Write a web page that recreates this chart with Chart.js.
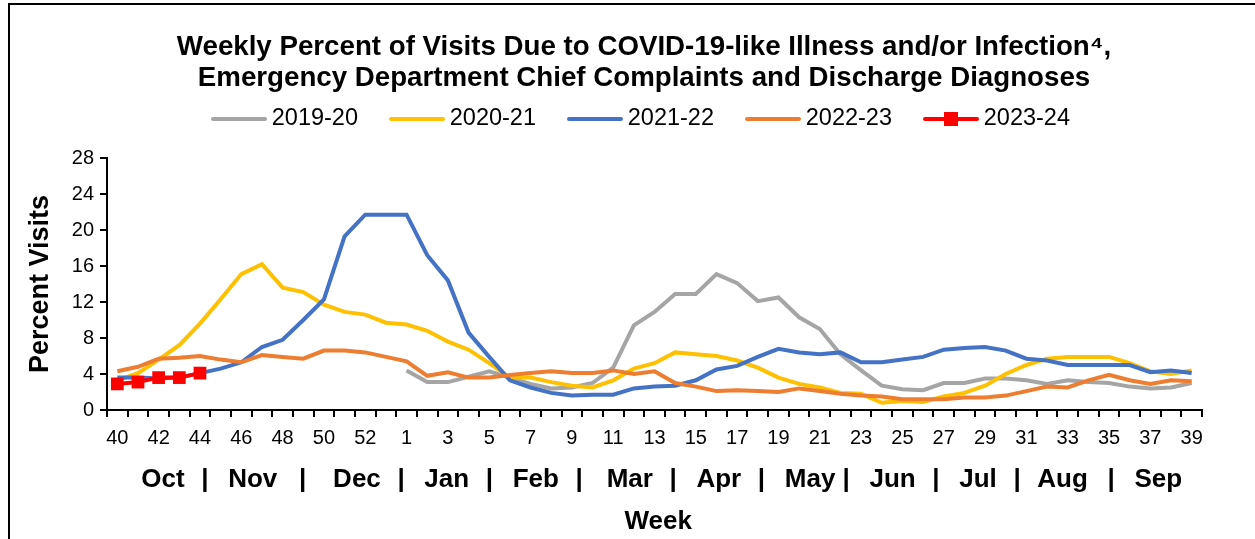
<!DOCTYPE html>
<html>
<head>
<meta charset="utf-8">
<title>COVID-19-like Illness ED Visits</title>
<script src="https://cdn.jsdelivr.net/npm/chart.js@4.4.0/dist/chart.umd.min.js"></script>
<style>
  html, body { margin: 0; padding: 0; background: #fff; }
  #wrap { position: relative; width: 1255px; height: 539px; overflow: hidden; }
  #frame { position: absolute; left: 8px; top: 3px; width: 1400px; height: 700px;
           border-left: 2px solid #000; border-top: 2px solid #000; }
  #chart { position: absolute; left: 0; top: 0; }
</style>
</head>
<body>
<div id="wrap">
  <div id="frame"></div>
  <canvas id="chart" width="1255" height="539"></canvas>
</div>
<script>
const weeks = [40, 41, 42, 43, 44, 45, 46, 47, 48, 49, 50, 51, 52, 53,
  1, 2, 3, 4, 5, 6, 7, 8, 9, 10, 11, 12, 13, 14, 15, 16, 17, 18, 19, 20,
  21, 22, 23, 24, 25, 26, 27, 28, 29, 30, 31, 32, 33, 34, 35, 36, 37, 38, 39];

const season2019 = [null, null, null, null, null, null, null, null, null, null, null, null, null, null,
  4.4, 3.1, 3.1, 3.7, 4.3, 3.6, 2.9, 2.4, 2.5, 3.0, 4.7, 9.4, 10.9, 12.9, 12.9, 15.1, 14.1, 12.1, 12.5, 10.3,
  9.0, 6.2, 4.4, 2.7, 2.3, 2.2, 3.0, 3.0, 3.5, 3.5, 3.3, 2.9, 3.3, 3.1, 3.0, 2.6, 2.4, 2.5, 3.0];

const season2020 = [3.3, 4.1, 5.6, 7.2, 9.6, 12.3, 15.1, 16.2, 13.6, 13.1, 11.7, 10.9, 10.6, 9.7,
  9.5, 8.8, 7.6, 6.7, 5.2, 3.6, 3.6, 3.1, 2.7, 2.5, 3.3, 4.6, 5.2, 6.4, 6.2, 6.0, 5.5, 4.7, 3.6, 2.9,
  2.5, 1.9, 1.8, 0.8, 1.0, 0.9, 1.5, 1.9, 2.7, 4.0, 5.0, 5.7, 5.9, 5.9, 5.9, 5.2, 4.3, 4.0, 4.4];

const season2021 = [3.6, 3.6, 3.5, 3.6, 4.1, 4.6, 5.3, 7.0, 7.8, 10.0, 12.3, 19.3, 21.7, 21.7,
  21.7, 17.2, 14.4, 8.6, 5.9, 3.3, 2.5, 1.9, 1.6, 1.7, 1.7, 2.4, 2.6, 2.7, 3.3, 4.5, 4.9, 5.9, 6.8, 6.4,
  6.2, 6.4, 5.3, 5.3, 5.6, 5.9, 6.7, 6.9, 7.0, 6.6, 5.7, 5.5, 5.0, 5.0, 5.0, 5.0, 4.2, 4.4, 4.1];

const season2022 = [4.3, 4.8, 5.7, 5.8, 6.0, 5.6, 5.3, 6.1, 5.9, 5.7, 6.6, 6.6, 6.4, 5.9,
  5.4, 3.8, 4.2, 3.6, 3.6, 3.9, 4.1, 4.3, 4.1, 4.1, 4.4, 4.0, 4.3, 3.0, 2.6, 2.1, 2.2, 2.1, 2.0, 2.4,
  2.1, 1.8, 1.6, 1.5, 1.2, 1.2, 1.2, 1.4, 1.4, 1.6, 2.1, 2.6, 2.5, 3.3, 3.9, 3.3, 2.9, 3.3, 3.2];

const season2023 = [2.9, 3.1, 3.6, 3.6, 4.1];

const seasonNames = ['2019-20', '2020-21', '2021-22', '2022-23', '2023-24'];
const seasonColors = ['#A5A5A5', '#FFC000', '#4472C4', '#ED7D31', '#FF0000'];

// month row under the week numbers, spaced out like the original (thin/hair spaces for fine gaps)
const monthRow = '  Oct  \u200A|  \u2009Nov   |   \u2009Dec  \u200A|  \u2009Jan  \u200A|  \u2009Feb  \u200A|   \u200AMar  \u200A|  \u2009Apr  \u200A|  \u2009May |  \u2009Jun  \u200A|  \u2009Jul  \u200A|  \u200AAug  \u2009|  \u2009Sep';

const FONT = "'Liberation Sans', Arial, sans-serif";

// legend icons: short line, plus a square for the current season
function legendIcon(color, withMarker) {
  const c = document.createElement('canvas');
  c.width = 56; c.height = 16;
  const g = c.getContext('2d');
  g.strokeStyle = color; g.lineWidth = 4; g.lineCap = 'round';
  g.beginPath(); g.moveTo(2, 8); g.lineTo(54, 8); g.stroke();
  if (withMarker) { g.fillStyle = color; g.fillRect(21, 1, 14, 14); }
  return c;
}
const icons = seasonColors.map((c, i) => legendIcon(c, i === 4));

const series = [season2019, season2020, season2021, season2022, season2023];
const datasets = series.map((d, i) => ({
  label: seasonNames[i],
  data: d,
  borderColor: seasonColors[i],
  backgroundColor: seasonColors[i],
  borderWidth: 4,
  tension: 0,
  pointRadius: i === 4 ? 9 : 0,
  pointStyle: 'rect',
  pointBorderWidth: 0,
  order: 5 - i
}));

new Chart(document.getElementById('chart'), {
  type: 'line',
  data: { labels: weeks, datasets: datasets },
  options: {
    responsive: false,
    animation: false,
    layout: { padding: { left: 33, right: 0, top: 0, bottom: 0 } },
    plugins: {
      title: {
        display: true,
        text: ['Weekly Percent of Visits Due to COVID-19-like Illness and/or Infection\u2074,',
               'Emergency Department Chief Complaints and Discharge Diagnoses'],
        color: '#000',
        font: { family: FONT, size: 27.7, weight: 'bold', lineHeight: '31px' },
        padding: { top: 32, bottom: -24.75 }
      },
      // empty subtitle used as spacer under the legend
      subtitle: {
        display: true,
        text: '',
        weight: 500,
        font: { size: 1, lineHeight: '17.25px' },
        padding: 0
      },
      legend: {
        labels: {
          usePointStyle: true,
          pointStyleWidth: 42,
          boxHeight: 16,
          padding: 38,
          color: '#000',
          font: { family: FONT, size: 23.5 },
          sort: (a, b) => a.datasetIndex - b.datasetIndex,
          generateLabels(chart) {
            const items = Chart.defaults.plugins.legend.labels.generateLabels(chart);
            items.forEach(it => { it.pointStyle = icons[it.datasetIndex]; });
            return items;
          }
        }
      },
      tooltip: { enabled: false }
    },
    scales: {
      x: {
        offset: true,
        ticks: {
          autoSkip: false, maxRotation: 0, color: '#000', padding: 9,
          font: { family: FONT, size: 20 },
          callback(v, i) { return i % 2 === 0 ? this.getLabelForValue(v) : ''; }
        },
        grid: { offset: true, drawOnChartArea: false, color: '#000', lineWidth: 2, tickLength: 7 },
        border: { color: '#000', width: 2 },
        title: {
          display: true,
          text: [monthRow, ' Week'],
          color: '#000',
          font: { family: FONT, size: 26, weight: 'bold', lineHeight: '42px' },
          padding: { top: 0, bottom: -4 }
        },
        afterFit(scale) { scale.height = 129; }
      },
      y: {
        min: 0, max: 28,
        ticks: { stepSize: 4, color: '#000', padding: 6, font: { family: FONT, size: 20 } },
        grid: { drawOnChartArea: false, color: '#000', lineWidth: 2, tickLength: 7 },
        border: { color: '#000', width: 2 },
        title: {
          display: true,
          text: 'Percent Visits',
          color: '#000',
          font: { family: FONT, size: 27, weight: 'bold' },
          padding: { top: -9, bottom: 0 }
        },
        afterFit(scale) { scale.width = 74; }
      },
      // empty right-hand box: keeps the plot's right margin without moving the centred title
      yRight: {
        position: 'right',
        display: true,
        grid: { display: false },
        border: { display: false },
        ticks: { display: false },
        afterFit(scale) { scale.width = 53; }
      }
    }
  }
});
</script>
</body>
</html>
